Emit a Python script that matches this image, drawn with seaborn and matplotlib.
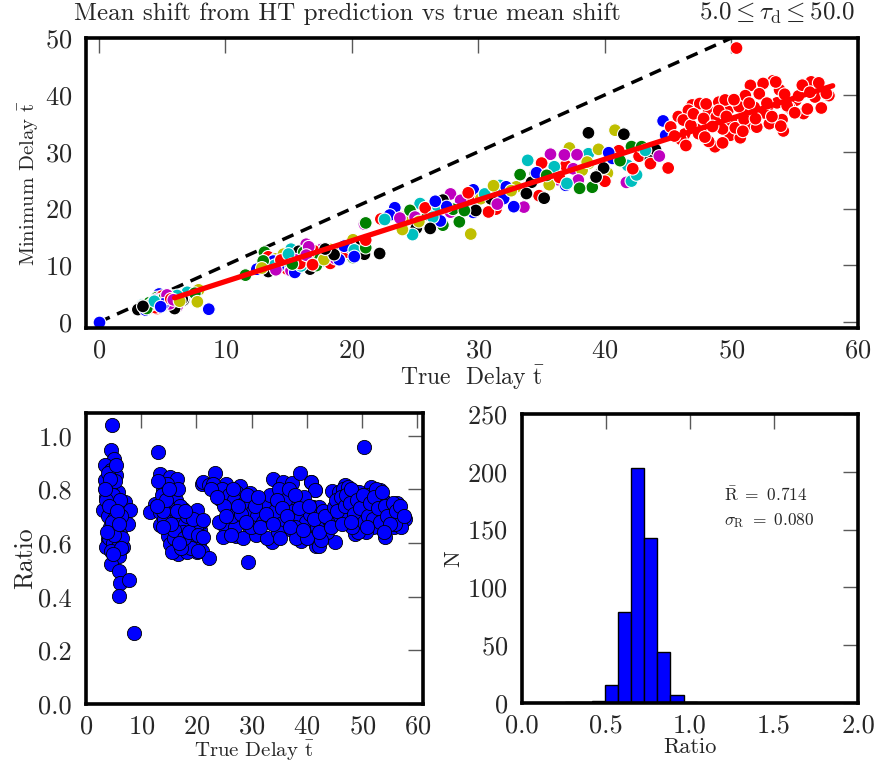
import numpy as np
import pandas as pd
import matplotlib
matplotlib.use("Agg")
import matplotlib.pyplot as plt
import seaborn as sns

sns.set_style("white")
plt.rcParams.update({
    "font.family": "serif",
    "font.serif": ["cmr10", "DejaVu Serif"],
    "mathtext.fontset": "cm",
    "axes.formatter.use_mathtext": True,
    "axes.unicode_minus": False,
})

# ---- data: true delay and ratio (minimum delay / true delay) per object ----
true_delay = [
    # group near 5
    4.78, 4.6, 5.0, 3.4, 4.6, 5.5, 3.4, 4.6, 5.8, 3.7, 7.0, 4.6, 7.9, 3.1, 5.8, 7.6,
    4.6, 6.1, 4.0, 5.2, 6.7, 3.7, 6.0, 4.6, 6.0, 6.2, 7.8, 6.0, 8.7,
    4.0, 4.3, 4.9, 5.3, 3.9, 4.4, 5.0, 5.5, 4.2, 4.8, 5.6, 6.3, 6.6, 3.6, 5.2, 4.5, 6.2, 5.4,
    4.1, 4.7, 5.1, 3.8, 5.7, 4.4, 5.9, 6.4, 3.5, 4.9,
    # group near 16
    13.1, 13.4, 15.2, 16.4, 14.0, 14.3, 12.5, 11.6, 13.4, 15.8, 17.6, 20.1, 13.4, 16.4, 18.9,
    14.9, 17.6, 15.2, 19.2, 16.7, 15.5, 20.1, 18.3, 20.7, 21.0,
    14.6, 15.8, 13.8, 16.2, 17.0, 14.8, 15.5, 16.8, 18.0, 14.2, 17.5, 19.6, 16.0, 18.7, 20.5,
    21.0, 19.0, 17.2, 15.9, 13.9, 16.6, 18.3, 20.8, 19.9, 13.0,
    14.4, 15.0, 16.4, 17.8, 18.6, 19.4, 15.3, 16.9, 20.2, 14.0, 12.9, 17.9,
    # groups 22 - 45
    23.4, 21.1, 22.3, 25.4, 27.8, 24.2, 27.2, 29.6, 26.0, 29.3, 31.7, 27.8, 33.0, 25.1, 29.6,
    27.2, 31.4, 24.8, 33.6, 29.4, 22.2, 20.2, 21.1, 21.1, 33.9, 35.7, 37.2, 38.7, 40.8, 34.5,
    36.9, 38.7, 36.3, 38.7, 39.6, 36.9, 39.0, 41.1, 41.5, 41.7, 40.8, 41.5, 44.6, 42.1, 42.7,
    42.1, 45.0, 40.2, 43.6,
    23.0, 24.6, 25.8, 26.8, 28.6, 30.2, 31.0, 32.2, 33.3, 35.0, 36.0, 37.5, 38.2, 39.9, 40.6,
    42.9, 43.6, 41.8, 37.9, 35.6, 34.2, 27.0, 28.5, 30.8, 26.4, 25.0, 24.0, 29.8, 32.8, 38.0,
    40.0, 42.5, 36.8, 39.5, 44.0, 32.0, 28.0, 34.8,
    22.6, 23.8, 25.3, 26.2, 27.5, 28.9, 29.2, 30.5, 31.5, 32.6, 33.8, 34.6, 35.4, 36.4, 37.0,
    37.8, 38.6, 39.3, 40.3, 41.2, 42.2, 43.2, 44.3, 31.2, 35.2, 26.6,
    # group near 52
    50.4, 46.9, 49.0, 51.5, 53.3, 56.3, 57.7, 55.1, 53.0, 51.2, 49.7, 48.1, 46.3, 44.8, 48.7,
    51.5, 54.1, 55.7, 49.9, 53.0,
    45.8, 46.6, 47.5, 48.2, 48.8, 47.2, 46.0, 49.3, 50.0, 50.6, 51.8, 52.6, 53.6, 54.6, 55.3,
    56.6, 57.1, 54.0, 52.0, 50.7, 49.3, 48.2, 47.4, 51.1, 52.5, 53.8, 56.0, 49.5,
    45.2, 45.5, 46.2, 46.8, 47.0, 47.8, 48.0, 48.5, 49.0, 49.6, 50.2, 50.3, 51.0, 51.4, 51.9,
    52.2, 52.8, 53.2, 53.5, 54.2, 54.4, 55.0, 55.6, 56.2, 56.9, 57.5, 46.4, 47.9, 50.9, 53.9,
]
ratio = [
    1.041, 0.946, 0.915, 0.89, 0.871, 0.853, 0.834, 0.81, 0.79, 0.771, 0.753, 0.728, 0.722,
    0.722, 0.703, 0.672, 0.659, 0.634, 0.616, 0.584, 0.584, 0.584, 0.553, 0.522, 0.497, 0.451,
    0.462, 0.403, 0.264,
    0.86, 0.80, 0.78, 0.74, 0.70, 0.66, 0.69, 0.64, 0.62, 0.60, 0.58, 0.70, 0.62, 0.76, 0.83,
    0.57, 0.76, 0.89,
    0.74, 0.68, 0.63, 0.64, 0.72, 0.84, 0.67, 0.58, 0.80, 0.56,
    0.941, 0.859, 0.846, 0.837, 0.797, 0.759, 0.747, 0.715, 0.715, 0.697, 0.728, 0.722, 0.666,
    0.653, 0.659, 0.628, 0.609, 0.597, 0.609, 0.56, 0.566, 0.566, 0.566, 0.647, 0.822,
    0.82, 0.79, 0.78, 0.76, 0.74, 0.73, 0.71, 0.69, 0.67, 0.69, 0.64, 0.63, 0.62, 0.60, 0.60,
    0.57, 0.58, 0.58, 0.65, 0.72, 0.80, 0.70, 0.68, 0.66, 0.83,
    0.76, 0.80, 0.72, 0.62, 0.64, 0.69, 0.67, 0.60, 0.63, 0.66, 0.74, 0.72,
    0.861, 0.828, 0.815, 0.822, 0.812, 0.766, 0.79, 0.787, 0.728, 0.74, 0.759, 0.697, 0.722,
    0.659, 0.653, 0.628, 0.634, 0.622, 0.603, 0.528, 0.545, 0.572, 0.622, 0.685, 0.84, 0.828,
    0.824, 0.861, 0.828, 0.759, 0.747, 0.766, 0.691, 0.722, 0.657, 0.653, 0.609, 0.734, 0.797,
    0.59, 0.828, 0.797, 0.794, 0.734, 0.684, 0.59, 0.603, 0.653, 0.659,
    0.82, 0.80, 0.78, 0.76, 0.75, 0.72, 0.70, 0.74, 0.78, 0.80, 0.76, 0.72, 0.70, 0.68, 0.71,
    0.72, 0.64, 0.66, 0.66, 0.68, 0.72, 0.66, 0.62, 0.63, 0.70, 0.74, 0.68, 0.66, 0.62, 0.62,
    0.62, 0.61, 0.80, 0.77, 0.69, 0.68, 0.71, 0.64,
    0.80, 0.77, 0.70, 0.63, 0.74, 0.68, 0.78, 0.74, 0.66, 0.71, 0.67, 0.76, 0.73, 0.70, 0.66,
    0.78, 0.73, 0.65, 0.74, 0.69, 0.64, 0.70, 0.66, 0.77, 0.62, 0.80,
    0.957, 0.815, 0.79, 0.809, 0.797, 0.751, 0.691, 0.709, 0.722, 0.724, 0.747, 0.715, 0.715,
    0.734, 0.634, 0.678, 0.622, 0.659, 0.659, 0.659,
    0.79, 0.80, 0.81, 0.77, 0.74, 0.72, 0.70, 0.69, 0.71, 0.75, 0.73, 0.70, 0.72, 0.69, 0.72,
    0.70, 0.66, 0.66, 0.66, 0.64, 0.64, 0.66, 0.70, 0.78, 0.80, 0.76, 0.67, 0.79,
    0.76, 0.72, 0.77, 0.74, 0.78, 0.75, 0.80, 0.71, 0.76, 0.73, 0.78, 0.68, 0.70, 0.75, 0.69,
    0.77, 0.73, 0.68, 0.79, 0.74, 0.70, 0.67, 0.75, 0.72, 0.74, 0.70, 0.67, 0.68, 0.66, 0.64,
]
origin_point_x = [0.0]
origin_point_y = [0.0]

# fitted relation (drawn in red) and the one-to-one line
fit_x = [6.0, 58.0]
fit_y = [4.3, 41.6]
unity_x = [0.0, 50.0]
unity_y = [0.0, 50.0]

# histogram of ratio (10 bins between 0.26 and 1.04)
hist_counts = [1, 1, 2, 16, 79, 203, 143, 44, 7, 1]
hist_range = (0.26, 1.04)
mean_ratio = 0.714
sigma_ratio = 0.080

# ---- build table ----
df = pd.DataFrame({"true": true_delay, "ratio": ratio})
df["mind"] = df["true"] * df["ratio"]
cycle = ["b", "g", "r", "c", "m", "y", "k"]
df["col"] = [cycle[i % 7] if t < 45 else "r" for i, t in enumerate(df["true"])]
classic = {"b": (0, 0, 1), "g": (0, 0.5, 0), "r": (1, 0, 0), "c": (0, 0.75, 0.75),
           "m": (0.75, 0, 0.75), "y": (0.75, 0.75, 0), "k": (0, 0, 0)}

fig = plt.figure(figsize=(8.74, 7.69), dpi=100)
ax1 = fig.add_axes([0.0984, 0.5735, 0.8833, 0.3771])
ax2 = fig.add_axes([0.0984, 0.0845, 0.3856, 0.3785])
ax3 = fig.add_axes([0.597, 0.0858, 0.3847, 0.3758])

tick_fs = 19
label_fs = 15

def style(ax):
    for s in ax.spines.values():
        s.set_linewidth(2.6)
        s.set_color("black")
        s.set_visible(True)
    ax.tick_params(direction="in", length=10.5, width=1, color="0.35",
                   top=True, right=True, labelsize=tick_fs)
    ax.tick_params(axis="y", pad=10)
    ax.tick_params(axis="x", pad=8)

# top panel
ax1.plot(unity_x, unity_y, color="black", lw=2.5, ls=(0, (3.5, 2.3)), zorder=1)
sns.scatterplot(data=df, x="true", y="mind", hue="col", palette=classic, ax=ax1,
                s=85, edgecolor="white", linewidth=0.8, legend=False, zorder=2)
sns.scatterplot(x=origin_point_x, y=origin_point_y, color="blue", ax=ax1, s=85,
                edgecolor="white", linewidth=0.8, legend=False, zorder=2)
sns.lineplot(x=fit_x, y=fit_y, color="red", lw=3.8, ax=ax1, zorder=3)
ax1.set_xlim(-1, 60)
ax1.set_ylim(-1, 50)
ax1.set_xticks([0, 10, 20, 30, 40, 50, 60])
ax1.set_yticks([0, 10, 20, 30, 40, 50])
ax1.set_xlabel(r"True  Delay $\bar{\mathrm{t}}$", fontsize=17, labelpad=0)
ax1.set_ylabel(r"Minimum Delay $\bar{\mathrm{t}}$", fontsize=label_fs, labelpad=3)
style(ax1)

fig.text(0.398, 0.982, "Mean shift from HT prediction vs true mean shift",
         ha="center", va="center", fontsize=18)
fig.text(0.889, 0.982, r"$5.0 \leq \tau_{\rm d} \leq 50.0$",
         ha="center", va="center", fontsize=18)

# bottom-left: ratio vs true delay
sns.scatterplot(data=df, x="true", y="ratio", color="blue", ax=ax2, s=105,
                edgecolor="black", linewidth=0.6, legend=False)
ax2.set_xlim(0, 61)
ax2.set_ylim(0, 1.085)
ax2.set_xticks([0, 10, 20, 30, 40, 50, 60])
ax2.set_yticks([0.0, 0.2, 0.4, 0.6, 0.8, 1.0])
ax2.set_yticklabels(["0.0", "0.2", "0.4", "0.6", "0.8", "1.0"])
ax2.set_xlabel(r"True Delay $\bar{\mathrm{t}}$", fontsize=label_fs, labelpad=0)
ax2.set_ylabel("Ratio", fontsize=18.5, labelpad=1)
style(ax2)

# bottom-right: histogram
edges = np.linspace(hist_range[0], hist_range[1], len(hist_counts) + 1)
centers = 0.5 * (edges[:-1] + edges[1:])
hdf = pd.DataFrame({"c": centers, "w": hist_counts})
sns.histplot(data=hdf, x="c", weights="w", bins=list(edges), ax=ax3, color="blue",
             alpha=1.0, edgecolor="black", linewidth=1.0)
ax3.set_xlim(0, 2)
ax3.set_ylim(0, 250)
ax3.set_xticks([0.0, 0.5, 1.0, 1.5, 2.0])
ax3.set_xticklabels(["0.0", "0.5", "1.0", "1.5", "2.0"])
ax3.set_yticks([0, 50, 100, 150, 200, 250])
ax3.set_xlabel("Ratio", fontsize=label_fs + 1, labelpad=0)
ax3.set_ylabel("N", fontsize=label_fs + 1, labelpad=3)
ax3.text(1.2, 180, r"$\bar{\mathrm{R}}\ =\ %.3f$" % mean_ratio, fontsize=12.5, va="center")
ax3.text(1.2, 158, r"$\sigma_{\mathrm{R}}\ =\ %.3f$" % sigma_ratio, fontsize=12.5, va="center")
style(ax3)

fig.savefig("out.png", dpi=100)
